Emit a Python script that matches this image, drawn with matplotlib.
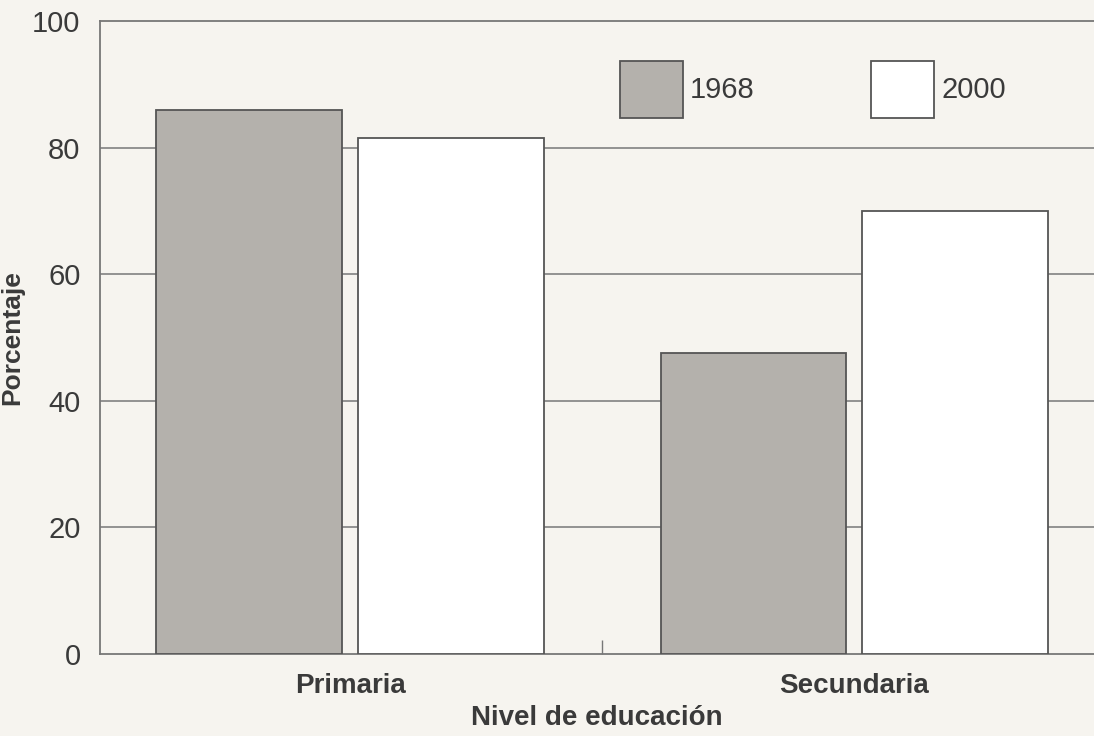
import matplotlib
matplotlib.use("Agg")
import matplotlib.pyplot as plt
import numpy as np

niveles = ['Primaria', 'Secundaria']
anios = ['1968', '2000']
valores_1968 = [86, 47.5]
valores_2000 = [81.5, 70]
yticks = [0, 20, 40, 60, 80, 100]

fondo = '#f6f4ef'
gris = '#b4b1ac'
borde = '#555555'
texto = '#3a3a3a'

plt.rcParams['font.family'] = ['Liberation Sans', 'DejaVu Sans']

fig = plt.figure(figsize=(10.94, 7.36), dpi=100, facecolor=fondo)
ax = fig.add_axes([0.0914, 0.1114, 0.9086, 0.8601], facecolor=fondo)

x = np.arange(len(niveles))
w = 0.368
off = 0.2
b1 = ax.bar(x - off, valores_1968, w, color=gris, edgecolor=borde, linewidth=1.3,
            label=anios[0], zorder=3)
b2 = ax.bar(x + off, valores_2000, w, color='white', edgecolor=borde, linewidth=1.3,
            label=anios[1], zorder=3)

ax.set_xlim(-0.496, 1.476)
ax.set_ylim(0, 100)
ax.set_yticks(yticks)
ax.set_yticklabels([str(v) for v in yticks], fontsize=21, color=texto)
ax.tick_params(axis='y', length=0, pad=14)
ax.set_xticks(x)
ax.set_xticklabels(niveles, fontsize=20, fontweight='bold', color=texto)
ax.tick_params(axis='x', length=0, pad=14)
ax.set_xticks([0.5], minor=True)
ax.tick_params(axis='x', which='minor', direction='in', length=10, color='#777777', width=1)

for y in yticks[1:-1]:
    ax.axhline(y, color='#8a8a8a', linewidth=1.3, zorder=1)

for s in ['left', 'top', 'bottom']:
    ax.spines[s].set_color('#777777')
    ax.spines[s].set_linewidth(1.3)
ax.spines['right'].set_visible(False)

ax.set_ylabel('Porcentaje', fontsize=19, fontweight='bold', color=texto)
ax.yaxis.set_label_coords(-0.076, 0.5)
ax.set_xlabel('Nivel de educación', fontsize=20, fontweight='bold', color=texto, labelpad=4)

leg = fig.legend(handles=[b1, b2], labels=anios, loc='upper left',
                 bbox_to_anchor=(620 / 1094, 1 - 61 / 736), ncol=2, frameon=False,
                 fontsize=21, handlelength=2.15, handleheight=2.65, handletextpad=0.25,
                 columnspacing=4.0, borderpad=0, borderaxespad=0)
for t in leg.get_texts():
    t.set_color(texto)

fig.savefig('out.png', dpi=100, facecolor=fondo)
